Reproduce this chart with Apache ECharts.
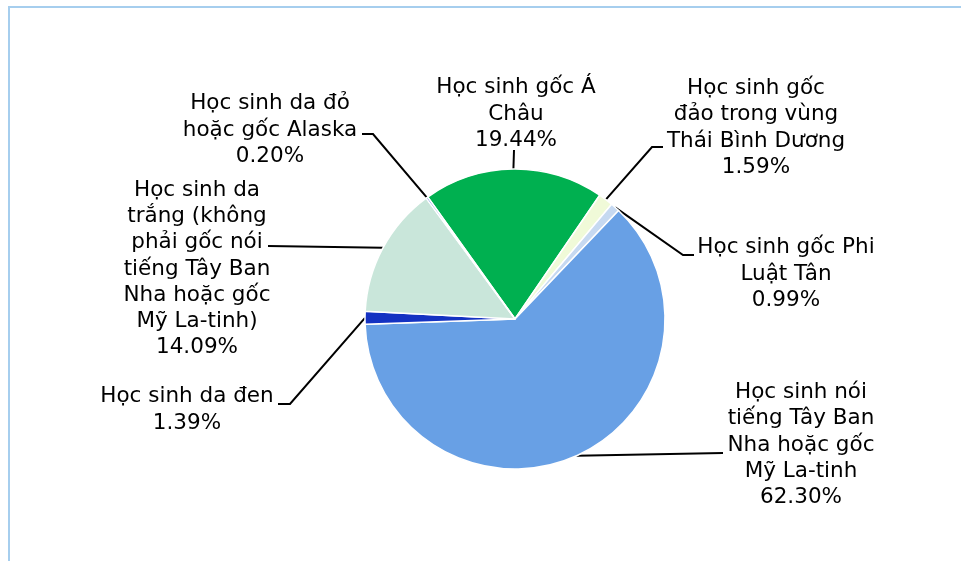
<!DOCTYPE html>
<html>
<head>
<meta charset="utf-8">
<script src="https://cdn.jsdelivr.net/npm/echarts@6/dist/echarts.min.js"></script>
<style>
  html, body { margin: 0; padding: 0; background: #fff; }
  #chart { width: 961px; height: 561px; }
</style>
</head>
<body>
<div id="chart"></div>
<script>
(function () {
    // slices, clockwise from the Asian slice
    var labels = [
        'Học sinh gốc Á\nChâu',
        'Học sinh gốc\nđảo trong vùng\nThái Bình Dương',
        'Học sinh gốc Phi\nLuật Tân',
        'Học sinh nói\ntiếng Tây Ban\nNha hoặc gốc\nMỹ La-tinh',
        'Học sinh da đen',
        'Học sinh da\ntrắng (không\nphải gốc nói\ntiếng Tây Ban\nNha hoặc gốc\nMỹ La-tinh)',
        'Học sinh da đỏ\nhoặc gốc Alaska'
    ];
    var percents = [19.44, 1.59, 0.99, 62.30, 1.39, 14.09, 0.20];
    var colors = ['#00B050', '#F0FAD8', '#C6D9F1', '#68A0E5', '#1432C2', '#C9E6DA', '#4A78D8'];

    // label block centres, and the bend / end of each leader line
    var labelPos = [
        [516, 114], [756, 128], [786, 274], [801, 445], [187, 410], [197, 269], [270, 130]
    ];
    var leaderBend = [
        [514, 150], [652, 147], [683, 255], [723, 453], [290, 404], [268, 246], [373, 134]
    ];
    var leaderEnd = [
        [514, 150], [663, 147], [694, 255], [723, 453], [278, 404], [268, 246], [362, 134]
    ];

    var myChart = echarts.init(document.getElementById('chart'));
    var option = {
        animation: false,
        graphic: [{
            type: 'rect',
            shape: { x: 9, y: 7, width: 1000, height: 600 },
            style: { fill: 'none', stroke: '#A6CEEE', lineWidth: 2 },
            silent: true
        }],
        series: [
            {
                type: 'pie',
                center: [515, 319],
                radius: 150,
                startAngle: 125.6,
                clockwise: true,
                avoidLabelOverlap: false,
                itemStyle: { borderColor: '#fff', borderWidth: 1.5 },
                label: {
                    show: true,
                    position: 'outside',
                    fontFamily: 'DejaVu Sans',
                    fontSize: 21.5,
                    lineHeight: 26.2,
                    color: '#000',
                    align: 'center',
                    formatter: function (p) {
                        return labels[p.dataIndex] + '\n' + p.value.toFixed(2) + '%';
                    }
                },
                labelLine: {
                    show: true,
                    length: 15,
                    length2: 0,
                    lineStyle: { color: '#000', width: 2 }
                },
                labelLayout: function (p) {
                    var i = p.dataIndex;
                    var start = p.labelLinePoints ? p.labelLinePoints[0] : leaderBend[i];
                    return {
                        x: labelPos[i][0],
                        y: labelPos[i][1],
                        align: 'center',
                        verticalAlign: 'middle',
                        labelLinePoints: [start, leaderBend[i], leaderEnd[i]]
                    };
                },
                data: percents.map(function (v, i) {
                    return { name: labels[i], value: v, itemStyle: { color: colors[i] } };
                })
            }
        ]
    };

    myChart.setOption(option);
    window.addEventListener('resize', function () {
        myChart.resize();
    });
})();
</script>
</body>
</html>
